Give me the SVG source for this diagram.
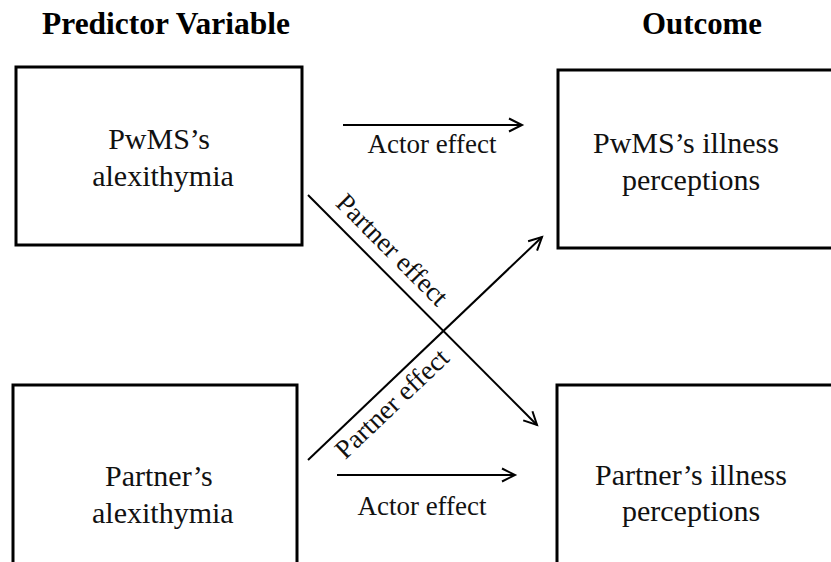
<svg xmlns="http://www.w3.org/2000/svg" width="831" height="562" viewBox="0 0 831 562">
<style>
.box{fill:#fff;stroke:#000;stroke-width:3}
text{font-family:'Liberation Serif','Times New Roman',Tinos,'Nimbus Roman','DejaVu Serif',serif;fill:#111}
.t{font-size:30px}
.h{font-size:31px;font-weight:bold;fill:#000}
.l{font-size:27px}
.c{stroke:#000;stroke-width:2;fill:none;marker-end:url(#ah)}
</style>
<defs>
<marker id="ah" markerWidth="20" markerHeight="20" viewBox="0 0 20 16" refX="16" refY="8" orient="auto" markerUnits="userSpaceOnUse">
<path d="M3,1.5 L16,8 L3,14.5" fill="none" stroke="#000" stroke-width="2"/>
</marker>
</defs>
<rect width="831" height="562" fill="#fff"/>
<g id="headings">
<text class="h" x="42" y="34" textLength="248" lengthAdjust="spacingAndGlyphs">Predictor Variable</text>
<text class="h" x="642" y="34" textLength="120" lengthAdjust="spacingAndGlyphs">Outcome</text>
</g>
<g id="pwms-alexithymia">
<rect class="box" x="16" y="67" width="286" height="178"/>
<text class="t" x="159" y="149" text-anchor="middle">PwMS’s</text>
<text class="t" x="163" y="186" text-anchor="middle">alexithymia</text>
</g>
<g id="pwms-illness">
<rect class="box" x="558" y="70" width="290" height="178"/>
<text class="t" x="593" y="153">PwMS’s illness</text>
<text class="t" x="622" y="190">perceptions</text>
</g>
<g id="partner-alexithymia">
<rect class="box" x="13" y="385" width="284" height="200"/>
<text class="t" x="105" y="486">Partner’s</text>
<text class="t" x="92" y="523">alexithymia</text>
</g>
<g id="partner-illness">
<rect class="box" x="557" y="385" width="290" height="200"/>
<text class="t" x="595" y="485">Partner’s illness</text>
<text class="t" x="622" y="521">perceptions</text>
</g>
<g id="connectors">
<line class="c" x1="343" y1="125" x2="522" y2="125"/>
<line class="c" x1="337" y1="475" x2="515" y2="475"/>
<line class="c" x1="308" y1="195" x2="537" y2="425"/>
<line class="c" x1="308" y1="460" x2="542" y2="237"/>
<text class="l" x="432" y="153" text-anchor="middle">Actor effect</text>
<text class="l" x="422" y="515" text-anchor="middle">Actor effect</text>
<text class="l" text-anchor="middle" transform="translate(386,256) rotate(45.1)">Partner effect</text>
<text class="l" text-anchor="middle" transform="translate(398,410) rotate(-43.6)">Partner effect</text>
</g>
</svg>
